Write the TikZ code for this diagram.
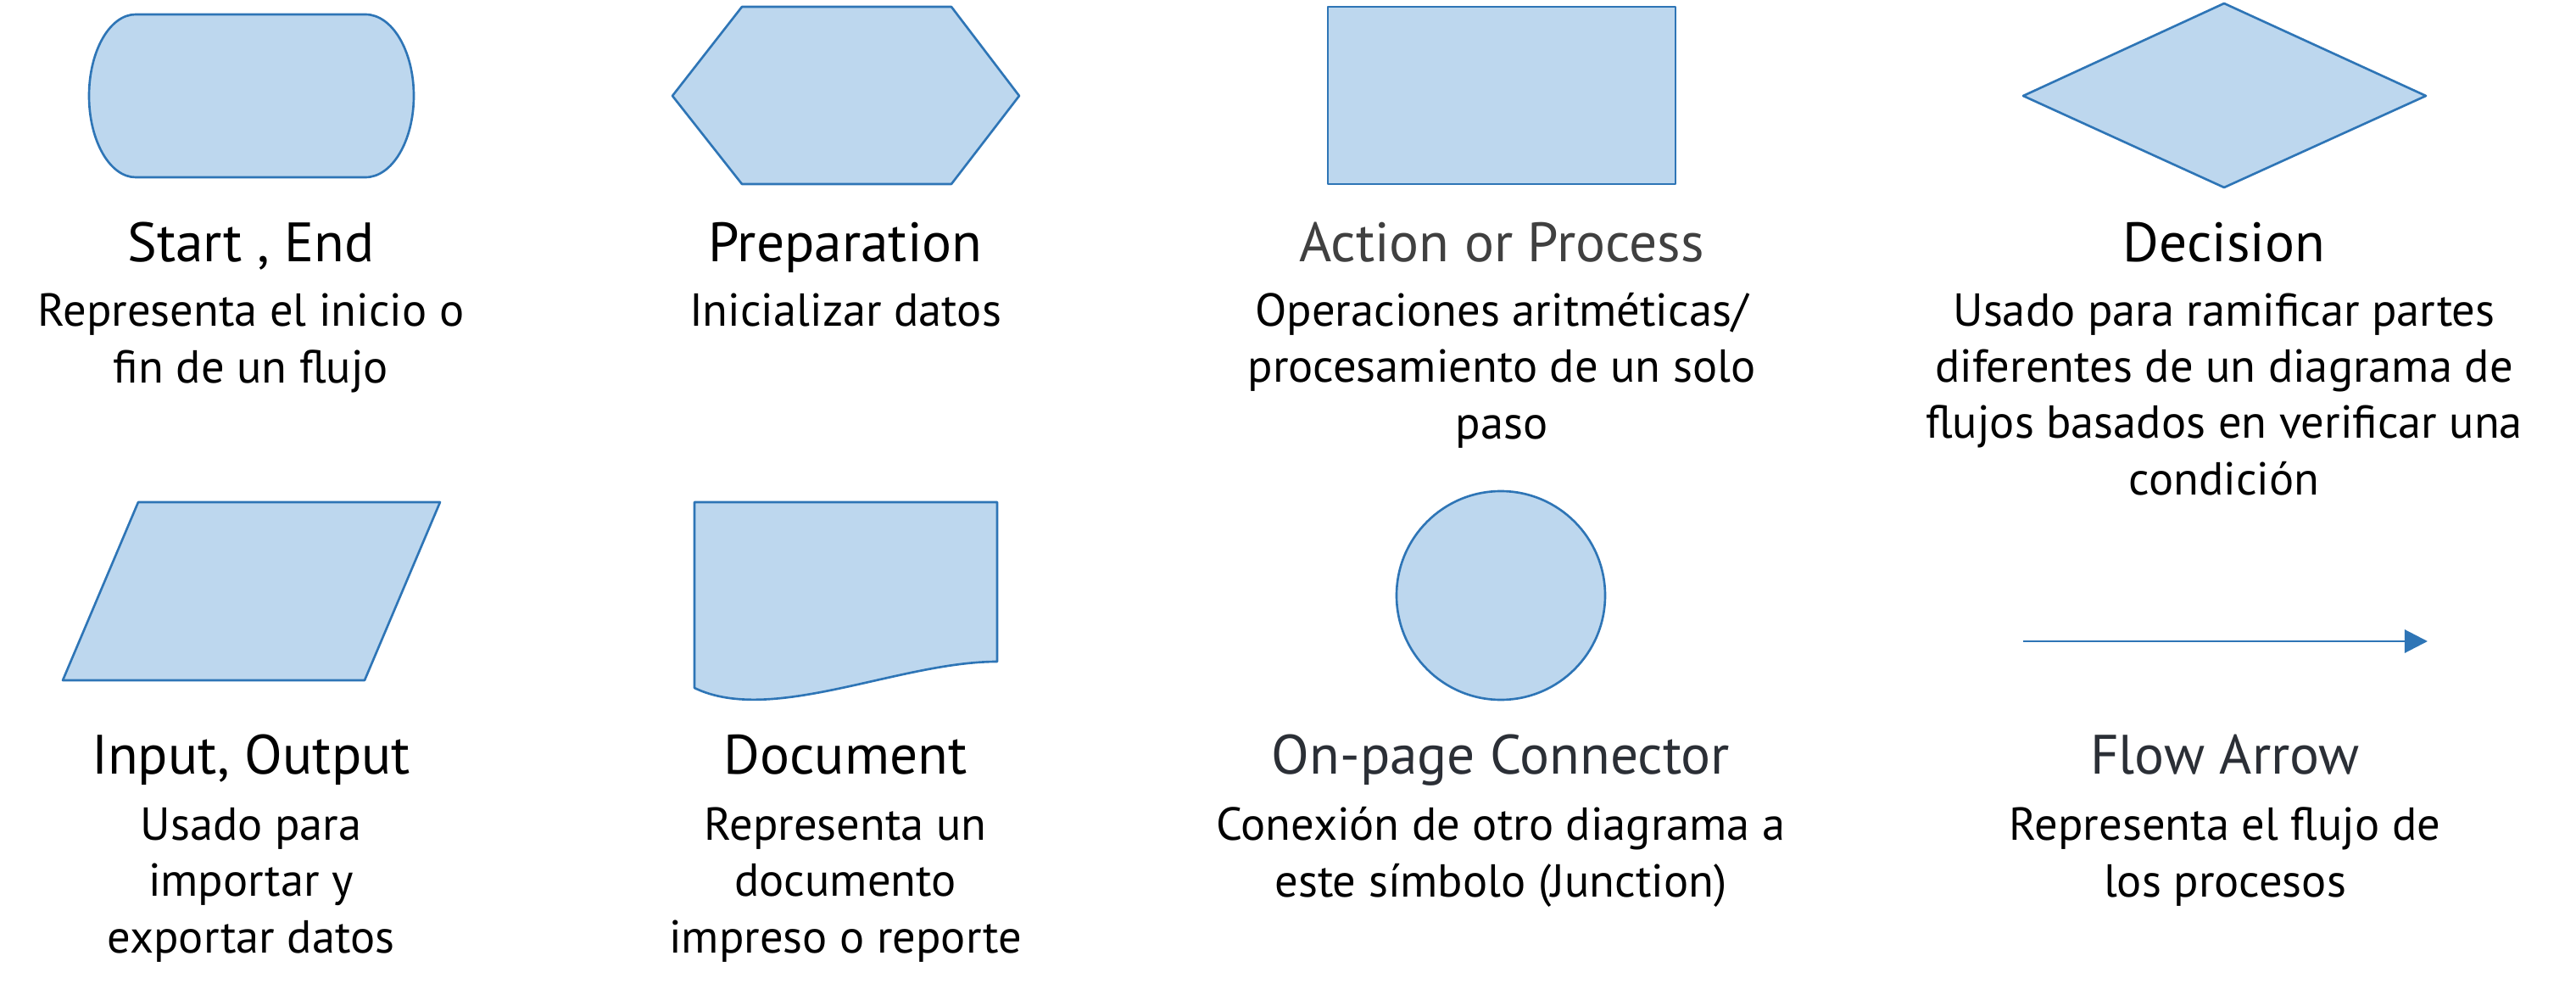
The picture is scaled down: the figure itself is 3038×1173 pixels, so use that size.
\documentclass[tikz,border=0pt]{standalone}
\usepackage{fontspec}
\setmainfont{PT Sans}
\usetikzlibrary{arrows.meta}
\definecolor{symfill}{HTML}{BDD7EE}
\definecolor{symline}{HTML}{2E75B6}
\definecolor{titlegray}{HTML}{404040}
\definecolor{titleslate}{HTML}{2B2F36}

\begin{document}
\begin{tikzpicture}[x=0.01cm,y=-0.01cm,
    symbol/.style={fill=symfill,draw=symline,line width=0.75pt,line join=round},
    flow/.style={draw=symline,line width=0.85pt,-{Triangle[length=7.7pt,width=7.7pt]}},
    title/.style={anchor=base,text=black,font=\fontsize{18.6}{22}\selectfont},
    desc/.style={anchor=base,align=center,font=\fontsize{15.5}{18.8}\selectfont}]

\useasboundingbox (0,0) rectangle (3038,1173);

% symbols, first row
    \draw[symbol] (160,17) -- (431,17)
        arc[start angle=-90,end angle=90,x radius=57,y radius=96] -- (160,209)
        arc[start angle=90,end angle=270,x radius=55,y radius=96] -- cycle; % start, end
    \draw[symbol] (875,8) -- (1122,8) -- (1202,113) -- (1122,217)
        -- (875,217) -- (793,113) -- cycle; % preparation
    \draw[symbol] (1566,8) rectangle (1976,217); % process
    \draw[symbol] (2623,4) -- (2861,113) -- (2623,221) -- (2386,113) -- cycle; % decision

% symbols, second row
    \draw[symbol] (163,592) -- (519,592) -- (430,802) -- (74,802) -- cycle; % input, output
    \draw[symbol] (819,592) -- (1176,592) -- (1176,780)
        .. controls (1060,780) and (910,855) .. (819,811) -- cycle; % document
    \draw[symbol] (1770,702) circle[radius=123]; % connector

    \coordinate (flowstart) at (2386,756);
    \coordinate (flowend) at (2863,756);
    \draw[flow] (flowstart) -- (flowend); % flow arrow

% labels, first row (desc nodes sit on their last line)
    \node[title] (startname) at (296,308) {Start , End};
    \node[desc] (starttext) at (296,451) {Representa el inicio o\\fin de un flujo};
    \node[title] (prepname) at (997,308) {Preparation};
    \node[desc] (preptext) at (997,385) {Inicializar datos};
    \node[title,text=titlegray] (procname) at (1771,308) {Action or Process};
    \node[desc] (proctext) at (1771,517) {Operaciones aritméticas/\\procesamiento de un solo\\paso};
    \node[title] (decname) at (2623,308) {Decision};
    \node[desc] (dectext) at (2623,583) {Usado para ramificar partes\\diferentes de un diagrama de\\flujos basados en verificar una\\condición};

% labels, second row
    \node[title] (ioname) at (296,912) {Input, Output};
    \node[desc] (iotext) at (296,1123) {Usado para\\importar y\\exportar datos};
    \node[title] (docname) at (997,912) {Document};
    \node[desc] (doctext) at (997,1123) {Representa un\\documento\\impreso o reporte};
    \node[title,text=titleslate] (connname) at (1770,912) {On-page Connector};
    \node[desc] (conntext) at (1770,1057) {Conexión de otro diagrama a\\este símbolo (Junction)};
    \node[title,text=titleslate] (flowname) at (2624,912) {Flow Arrow};
    \node[desc] (flowtext) at (2624,1057) {Representa el flujo de\\los procesos};

\end{tikzpicture}
\end{document}
